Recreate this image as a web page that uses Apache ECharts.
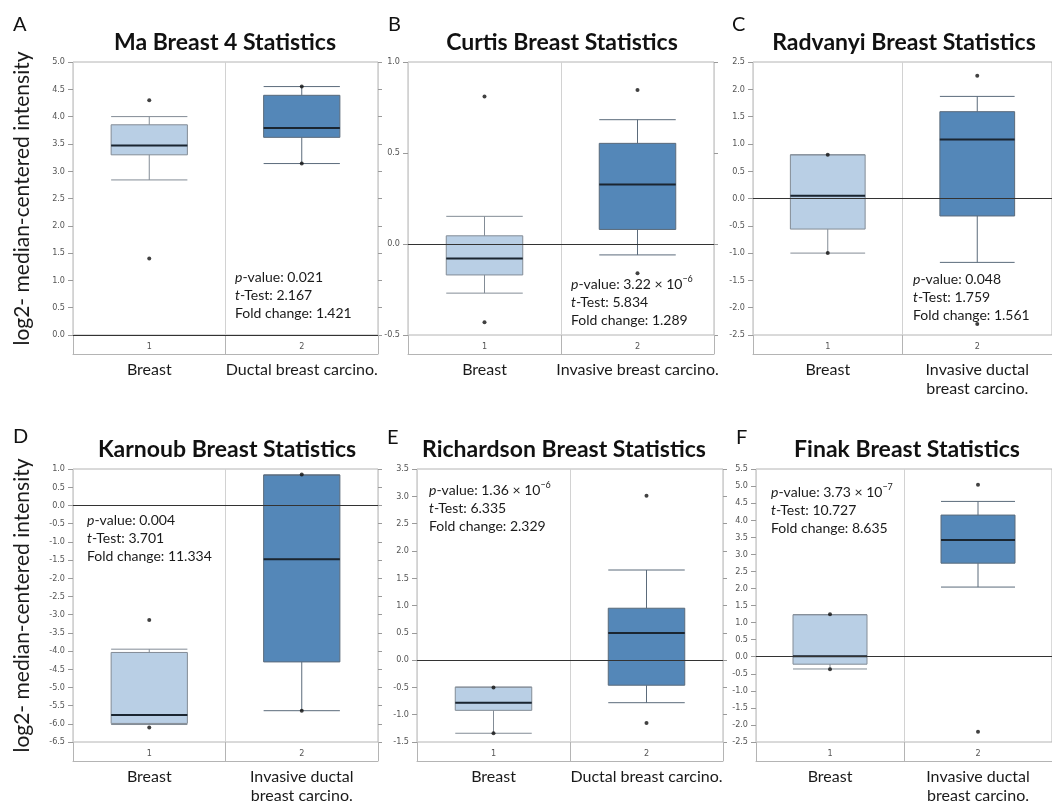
<!DOCTYPE html>
<html><head><meta charset="utf-8">
<script src="https://cdn.jsdelivr.net/npm/echarts@6/dist/echarts.min.js"></script>
<style>html,body{margin:0;padding:0;background:#fff}#chart{width:1052px;height:808px}</style>
</head><body><div id="chart"></div>
<script>
// ---------- data ----------
const panelLetters = ['A', 'B', 'C', 'D', 'E', 'F'];
const panelTitles = ['Ma Breast 4 Statistics', 'Curtis Breast Statistics', 'Radvanyi Breast Statistics',
  'Karnoub Breast Statistics', 'Richardson Breast Statistics', 'Finak Breast Statistics'];
const groupNumbers = ['1', '2'];
const groupNames = [
  ['Breast', 'Ductal breast carcino.'],
  ['Breast', 'Invasive breast carcino.'],
  ['Breast', 'Invasive ductal\nbreast carcino.'],
  ['Breast', 'Invasive ductal\nbreast carcino.'],
  ['Breast', 'Ductal breast carcino.'],
  ['Breast', 'Invasive ductal\nbreast carcino.']
];
const yAxisTitle = 'log2- median-centered intensity';
// [lower whisker, Q1, median, Q3, upper whisker] for group 1 and group 2
const boxMa = [[2.84, 3.30, 3.47, 3.85, 4.00], [3.14, 3.62, 3.79, 4.39, 4.55]];
const boxCurtis = [[-0.27, -0.17, -0.08, 0.045, 0.152], [-0.06, 0.08, 0.327, 0.553, 0.683]];
const boxRadvanyi = [[-1.0, -0.56, 0.05, 0.80, 0.80], [-1.17, -0.32, 1.08, 1.59, 1.87]];
const boxKarnoub = [[-6.02, -5.99, -5.76, -4.04, -3.95], [-5.64, -4.30, -1.48, 0.836, 0.836]];
const boxRichardson = [[-1.34, -0.92, -0.78, -0.495, -0.495], [-0.78, -0.46, 0.495, 0.95, 1.65]];
const boxFinak = [[-0.36, -0.22, 0.01, 1.23, 1.23], [2.04, 2.74, 3.42, 4.15, 4.55]];
// individual points drawn as dots, per group
const dotsMa = [[4.30, 1.40], [4.55, 3.14]];
const dotsCurtis = [[0.81, -0.43], [0.846, -0.161]];
const dotsRadvanyi = [[0.80, -1.0], [2.25, -2.30]];
const dotsKarnoub = [[-3.15, -6.10], [0.85, -5.64]];
const dotsRichardson = [[-0.50, -1.34], [3.01, -1.15]];
const dotsFinak = [[1.24, -0.37], [5.04, -2.20]];
const yMin = [0, -0.5, -2.5, -6.5, -1.5, -2.5];
const yMax = [5.0, 1.0, 2.5, 1.0, 3.5, 5.5];
const yStep = 0.5;
const pValue = ['0.021', '3.22', '0.048', '0.004', '1.36', '3.73'];
const pExponent = [null, -6, null, null, -6, -7];
const tTest = ['2.167', '5.834', '1.759', '3.701', '6.335', '10.727'];
const foldChange = ['1.421', '1.289', '1.561', '11.334', '2.329', '8.635'];

const boxes = [boxMa, boxCurtis, boxRadvanyi, boxKarnoub, boxRichardson, boxFinak];
const dots = [dotsMa, dotsCurtis, dotsRadvanyi, dotsKarnoub, dotsRichardson, dotsFinak];

// ---------- layout ----------
const grids = [
  { left: 73, top: 62, width: 305 },
  { left: 408, top: 62, width: 306 },
  { left: 753, top: 62, width: 304 },
  { left: 73, top: 469, width: 305 },
  { left: 417, top: 469, width: 306 },
  { left: 756, top: 469, width: 306 }
];
const plotH = 273, bandH = 19;
const titlePos = [[225, 43], [562, 43], [904, 43], [227, 450], [564, 450], [907, 450]];
const letterPos = [[13, 25], [388, 25], [732, 25], [13, 437], [387, 438], [736, 438]];
const notePos = [[235, 268], [571, 275], [913, 270], [87, 511], [429, 481], [771, 483]];

const narrow = "'Liberation Sans Narrow','DejaVu Sans Condensed',sans-serif";
const mainFont = 'Lato';
const lineGray = '#b4b4b4';
const lightBox = { color: '#b9cfe5', borderColor: '#838c96', borderWidth: 1 };
const darkBox = { color: '#5487b8', borderColor: '#5b6b7b', borderWidth: 1 };
const supMap = { '-': '\u2212' };

const option = { animation: false, grid: [], xAxis: [], yAxis: [], series: [], graphic: { elements: [] } };

grids.forEach((g, i) => {
  option.grid.push({ left: g.left, top: g.top, width: g.width, height: plotH, show: true,
    borderColor: lineGray, borderWidth: 1, backgroundColor: 'transparent' });
  option.xAxis.push({
    gridIndex: i, type: 'category', data: groupNumbers, position: 'bottom', offset: bandH,
    axisLine: { show: true, onZero: false, lineStyle: { color: lineGray } },
    axisTick: { show: true, inside: true, length: bandH, alignWithLabel: false, interval: 0, lineStyle: { color: lineGray } },
    axisLabel: { inside: true, margin: 3, fontSize: 9, color: '#555', fontFamily: narrow, interval: 0 },
    splitLine: { show: true, interval: 0, lineStyle: { color: '#d2d2d2' } }
  });
  option.xAxis.push({
    gridIndex: i, type: 'category', data: groupNames[i], position: 'bottom', offset: bandH,
    axisLine: { show: false, onZero: false }, axisTick: { show: false },
    axisLabel: { margin: 6, fontSize: 16, color: '#1a1a1a', fontFamily: mainFont, lineHeight: 19, interval: 0 },
    splitLine: { show: false }
  });
  option.yAxis.push({
    gridIndex: i, type: 'value', position: 'left', min: yMin[i], max: yMax[i], interval: yStep,
    axisLine: { show: false }, axisTick: { show: true, length: 5, lineStyle: { color: '#9a9a9a' } },
    axisLabel: { fontSize: 9, color: '#555', margin: 8, fontFamily: narrow, formatter: v => v.toFixed(1) },
    splitLine: { show: false },
    name: i % 3 === 0 ? yAxisTitle : '', nameLocation: 'middle', nameGap: 40,
    nameTextStyle: { fontSize: 21, fontFamily: mainFont, color: '#1a1a1a' }
  });
  option.yAxis.push({
    gridIndex: i, type: 'value', position: 'right', min: yMin[i], max: yMax[i], interval: yStep,
    axisLine: { show: false }, axisTick: { show: true, length: 4, lineStyle: { color: '#9a9a9a' } },
    axisLabel: { show: false }, splitLine: { show: false }
  });
  const xi = 2 * i, yi = 2 * i;
  option.series.push({
    type: 'boxplot', xAxisIndex: xi, yAxisIndex: yi, boxWidth: ['50%', '50%'], z: 2,
    data: boxes[i].map((b, k) => ({ value: b, itemStyle: k === 0 ? lightBox : darkBox })),
    emphasis: { disabled: true },
    markLine: { silent: true, symbol: 'none', label: { show: false },
      lineStyle: { color: '#333', width: 1, type: 'solid' }, data: [{ yAxis: 0 }] }
  });
  option.series.push({
    type: 'custom', xAxisIndex: xi, yAxisIndex: yi, z: 3, silent: true,
    data: boxes[i].map((b, k) => [k, b[2]]),
    renderItem: (params, api) => {
      const p = api.coord([api.value(0), api.value(1)]);
      const half = api.size([1, 0])[0] * 0.25;
      return { type: 'line', shape: { x1: p[0] - half, y1: p[1], x2: p[0] + half, y2: p[1] },
        style: { stroke: '#1a2530', lineWidth: 2 } };
    }
  });
  option.series.push({
    type: 'scatter', xAxisIndex: xi, yAxisIndex: yi, z: 4, symbolSize: 4, silent: true,
    itemStyle: { color: '#111' },
    data: dots[i].flatMap((arr, k) => arr.map(v => [k, v]))
  });

  // titles, letters, statistics
  option.graphic.elements.push({ type: 'text', x: titlePos[i][0], y: titlePos[i][1],
    style: { text: panelTitles[i], font: 'bold 23px Lato', fill: '#111', align: 'center', verticalAlign: 'middle' } });
  option.graphic.elements.push({ type: 'text', x: letterPos[i][0], y: letterPos[i][1],
    style: { text: panelLetters[i], font: '20px Lato', fill: '#111', align: 'left', verticalAlign: 'middle' } });
  const exp = pExponent[i] === null ? '' :
    ' \u00d7 10{s|' + String(pExponent[i]).split('').map(c => supMap[c] || c).join('') + '}';
  const note = '{i|p}-value: ' + pValue[i] + exp + '\n{i|t}-Test: ' + tTest[i] + '\nFold change: ' + foldChange[i];
  option.graphic.elements.push({ type: 'text', x: notePos[i][0], y: notePos[i][1],
    style: { text: note, font: '14px Lato', fill: '#1a1a1a', lineHeight: 18, align: 'left', verticalAlign: 'top',
      rich: { i: { font: 'italic 14px Lato', fill: '#1a1a1a', lineHeight: 18 },
              s: { font: '9px Lato', fill: '#1a1a1a', verticalAlign: 'top', lineHeight: 10 } } } });
});

const chart = echarts.init(document.getElementById('chart'), null, { renderer: 'canvas' });
chart.setOption(option);
</script></body></html>
